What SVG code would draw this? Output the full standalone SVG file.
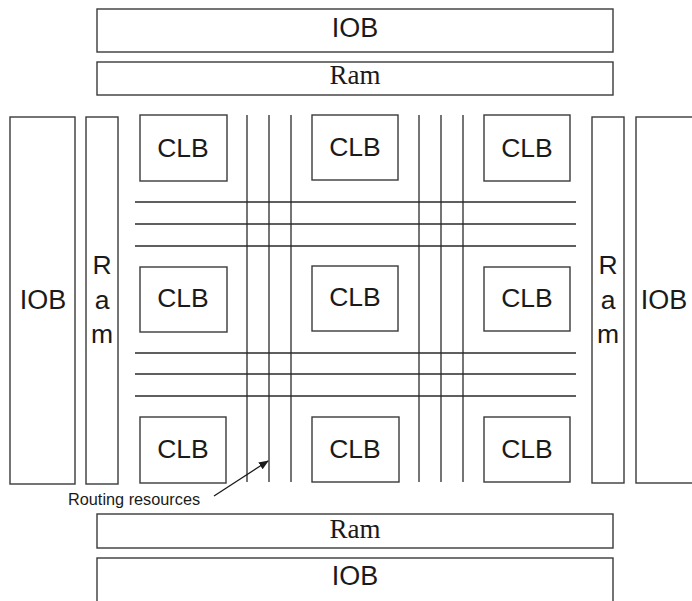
<svg xmlns="http://www.w3.org/2000/svg" width="692" height="601" viewBox="0 0 692 601">
<defs>
<style>
.box{fill:#fff;stroke:#3a3a3a;stroke-width:1.4}
.ln{stroke:#2a2a2a;stroke-width:1.3;fill:none}
.sans{font-family:"Liberation Sans",Arial,sans-serif;font-size:26.5px;fill:#1a1a1a;text-anchor:middle}
.iob{font-size:27px}
.serif{font-family:"Liberation Serif","Times New Roman",serif;font-size:27px;fill:#1a1a1a;text-anchor:middle}
.small{font-family:"Liberation Sans",Arial,sans-serif;font-size:16.3px;fill:#1a1a1a}
</style>
<marker id="ah" markerWidth="10" markerHeight="8" refX="9" refY="4" orient="auto" markerUnits="userSpaceOnUse">
<path d="M0,0 L10,4 L0,8 Z" fill="#1a1a1a"/>
</marker>
</defs>
<rect width="692" height="601" fill="#fff"/>
<g id="connectors">
<line class="ln" x1="135" y1="202" x2="576" y2="202"/>
<line class="ln" x1="135" y1="224" x2="576" y2="224"/>
<line class="ln" x1="135" y1="246" x2="576" y2="246"/>
<line class="ln" x1="135" y1="353" x2="576" y2="353"/>
<line class="ln" x1="135" y1="374" x2="576" y2="374"/>
<line class="ln" x1="135" y1="396" x2="576" y2="396"/>
<line class="ln" x1="247" y1="115" x2="247" y2="482"/>
<line class="ln" x1="269" y1="115" x2="269" y2="482"/>
<line class="ln" x1="291" y1="115" x2="291" y2="482"/>
<line class="ln" x1="419" y1="115" x2="419" y2="482"/>
<line class="ln" x1="441" y1="115" x2="441" y2="482"/>
<line class="ln" x1="463" y1="115" x2="463" y2="482"/>
<line x1="214" y1="496" x2="268" y2="461" stroke="#1a1a1a" stroke-width="1.3" marker-end="url(#ah)"/>
</g>
<g id="iob-top"><rect class="box" x="97" y="9" width="516" height="43"/><text class="sans iob" x="355" y="37">IOB</text></g>
<g id="ram-top"><rect class="box" x="97" y="62" width="516" height="33"/><text class="serif" x="355" y="84">Ram</text></g>
<g id="ram-bottom"><rect class="box" x="97" y="514" width="516" height="34"/><text class="serif" x="355" y="538">Ram</text></g>
<g id="iob-bottom"><rect class="box" x="97" y="558" width="516" height="50"/><text class="sans iob" x="355" y="585">IOB</text></g>
<g id="iob-left"><rect class="box" x="10" y="117" width="65" height="367"/><text class="sans iob" x="43" y="309">IOB</text></g>
<g id="ram-left"><rect class="box" x="86" y="117" width="32" height="367"/><text class="sans" x="102" y="274">R</text><text class="sans" x="102" y="309">a</text><text class="sans" x="102" y="343">m</text></g>
<g id="ram-right"><rect class="box" x="592" y="117" width="32" height="366"/><text class="sans" x="608" y="274">R</text><text class="sans" x="608" y="309">a</text><text class="sans" x="608" y="343">m</text></g>
<g id="iob-right"><rect class="box" x="636" y="117" width="70" height="366"/><text class="sans iob" x="664" y="309">IOB</text></g>
<g id="clb-1"><rect class="box" x="140" y="115" width="87" height="66"/><text class="sans" x="183" y="157">CLB</text></g>
<g id="clb-2"><rect class="box" x="312" y="115" width="86" height="65"/><text class="sans" x="355" y="156">CLB</text></g>
<g id="clb-3"><rect class="box" x="484" y="115" width="86" height="66"/><text class="sans" x="527" y="157">CLB</text></g>
<g id="clb-4"><rect class="box" x="140" y="267" width="87" height="65"/><text class="sans" x="183" y="307">CLB</text></g>
<g id="clb-5"><rect class="box" x="312" y="266" width="86" height="65"/><text class="sans" x="355" y="306">CLB</text></g>
<g id="clb-6"><rect class="box" x="484" y="267" width="86" height="64"/><text class="sans" x="527" y="307">CLB</text></g>
<g id="clb-7"><rect class="box" x="140" y="417" width="86" height="66"/><text class="sans" x="183" y="458">CLB</text></g>
<g id="clb-8"><rect class="box" x="312" y="417" width="87" height="65"/><text class="sans" x="355" y="458">CLB</text></g>
<g id="clb-9"><rect class="box" x="484" y="417" width="86" height="65"/><text class="sans" x="527" y="458">CLB</text></g>
<g id="label"><text class="small" x="68" y="505">Routing resources</text></g>
</svg>
